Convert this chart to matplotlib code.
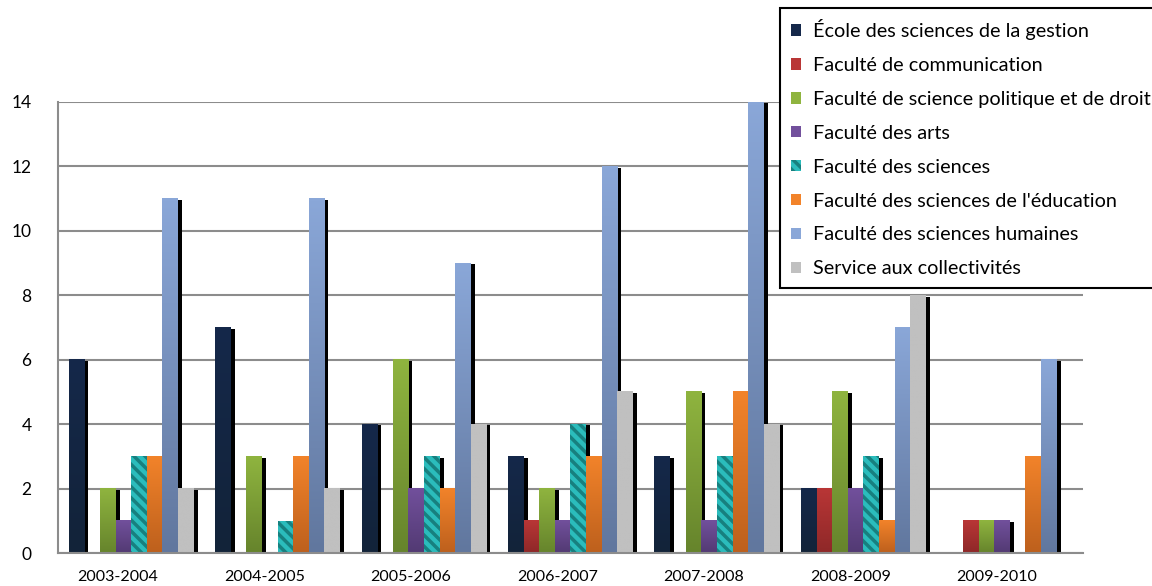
import numpy as np
import matplotlib
matplotlib.use("Agg")
import matplotlib.pyplot as plt
from matplotlib.colors import LinearSegmentedColormap
from matplotlib.patches import Patch

plt.rcParams['font.family'] = ['Lato', 'DejaVu Sans']
plt.rcParams['hatch.linewidth'] = 2.5

years = ['2003-2004', '2004-2005', '2005-2006', '2006-2007',
         '2007-2008', '2008-2009', '2009-2010']
series = ['École des sciences de la gestion', 'Faculté de communication',
          'Faculté de science politique et de droit', 'Faculté des arts',
          'Faculté des sciences', "Faculté des sciences de l'éducation",
          'Faculté des sciences humaines', 'Service aux collectivités']

esg = [6, 7, 4, 3, 3, 2, 0]
comm = [0, 0, 0, 1, 0, 2, 1]
spd = [2, 3, 6, 2, 5, 5, 1]
arts = [1, 0, 2, 1, 1, 2, 1]
sciences = [3, 1, 3, 4, 3, 3, 0]
educ = [3, 3, 2, 3, 5, 1, 3]
humaines = [11, 11, 9, 12, 14, 7, 6]
service = [2, 2, 4, 5, 4, 8, 0]
values = [esg, comm, spd, arts, sciences, educ, humaines, service]

# (top colour, bottom colour) of the vertical gradient
colors = [('#15284a', '#122339'), ('#b93636', '#8e2828'),
          ('#8fb43f', '#66842c'), ('#72509c', '#523a73'),
          ('#2bbcbc', '#2bbcbc'), ('#f2832a', '#bd601d'),
          ('#8aa7d8', '#61779e'), ('#c0c0c0', '#c0c0c0')]

fig = plt.figure(figsize=(11.52, 5.86), dpi=100)
ax = fig.add_axes([0.0503, 0.0563, 0.8898, 0.7697])

x = np.arange(len(years))
w = 0.1066
shift = 0.027  # shadow offset

for j, vals in enumerate(values):
    top, bottom = colors[j]
    cmap = LinearSegmentedColormap.from_list('g%d' % j, [bottom, top])
    for i, v in enumerate(vals):
        if v == 0:
            continue
        x0 = x[i] + (j - 4) * w
        ax.bar(x0 + shift, v - 0.04, width=w, align='edge', color='black',
               zorder=1, linewidth=0)
        if j == 4:
            ax.bar(x0, v, width=w, align='edge', color=top, edgecolor='#17807f',
                   hatch='\\\\\\', linewidth=0, zorder=2)
        else:
            grad = np.linspace(0, 1, 100).reshape(-1, 1)
            ax.imshow(grad, extent=(x0, x0 + w, 0, v), origin='lower',
                      cmap=cmap, aspect='auto', zorder=2, interpolation='bilinear')

ax.set_xlim(-0.5, len(years) - 0.5)
ax.set_ylim(0, 14)
ax.set_yticks(np.arange(0, 15, 2))
ax.set_xticks(x - 0.09)
ax.set_xticklabels(years)
ax.tick_params(axis='both', length=0, colors='black')
ax.tick_params(axis='x', labelsize=11.5, pad=12)
ax.tick_params(axis='y', labelsize=12.5, pad=19)
ax.grid(axis='y', color='#8c8c8c', linewidth=1.5, zorder=0)
ax.set_axisbelow(True)
for s in ['top', 'right']:
    ax.spines[s].set_visible(False)
for s in ['left', 'bottom']:
    ax.spines[s].set_color('#8c8c8c')
    ax.spines[s].set_linewidth(1.5)

handles = []
for j, name in enumerate(series):
    top, bottom = colors[j]
    if j == 4:
        handles.append(Patch(facecolor=top, edgecolor='#17807f', hatch='\\\\\\',
                             linewidth=0, label=name))
    else:
        handles.append(Patch(facecolor=top, linewidth=0, label=name))

leg = fig.legend(handles=handles, loc='upper left', bbox_to_anchor=(0.677, 0.986),
                 fontsize=14.3, frameon=True, fancybox=False, framealpha=1,
                 edgecolor='black', handlelength=0.5, handleheight=0.5,
                 handletextpad=0.6, labelspacing=0.85, borderpad=0.55,
                 borderaxespad=0)
leg.get_frame().set_linewidth(1.5)

fig.savefig('out.png', dpi=100)
